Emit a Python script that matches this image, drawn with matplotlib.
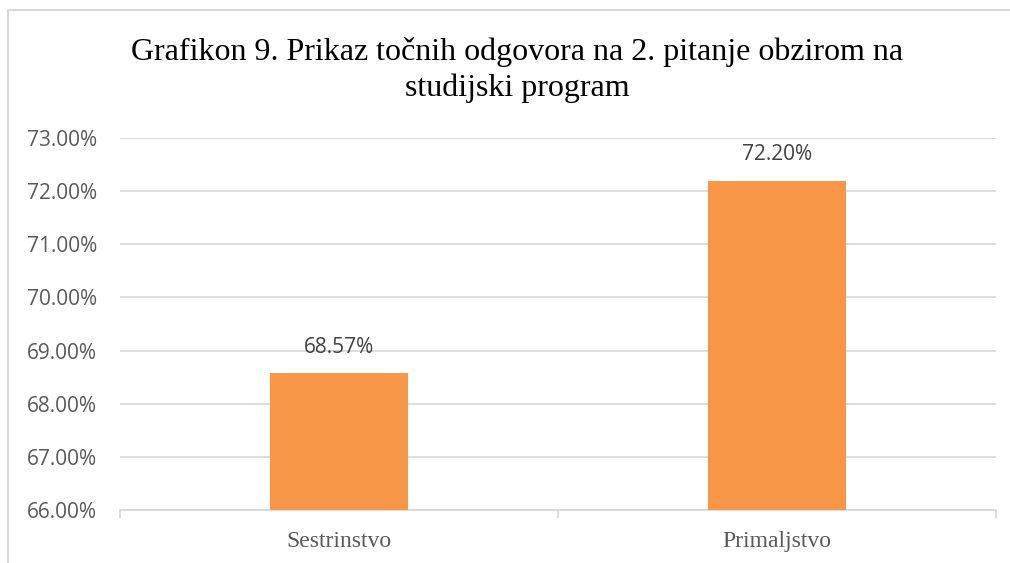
import matplotlib.pyplot as plt
from matplotlib.patches import Rectangle

categories = ['Sestrinstvo', 'Primaljstvo']
values = [68.57, 72.20]
yticks = [66, 67, 68, 69, 70, 71, 72, 73]

fig = plt.figure(figsize=(10.10, 5.63), dpi=100)
ax = fig.add_axes([120 / 1010, 1 - 510 / 563, 876 / 1010, 372 / 563])

# chart frame (top and left edges visible)
fig.patches.append(Rectangle((8 / 1010, -0.1), 1.2, 1 - 10 / 563 + 0.1,
                             transform=fig.transFigure, fill=False,
                             edgecolor='#d9d9d9', linewidth=1.5))

x = range(len(categories))
ax.bar(x, values, width=0.313, color='#f79646', zorder=3)
ax.set_xlim(-0.5, 1.5)
ax.set_ylim(66, 73)
ax.set_yticks(yticks)
ax.set_yticklabels([f'{v:.2f}%' for v in yticks], fontsize=15,
                   color='#595959', family='Open Sans')
ax.grid(axis='y', color='#d9d9d9', linewidth=1.3, zorder=0)
ax.tick_params(axis='y', length=0, pad=16.5)

ax.set_xticks([-0.5, 0.5, 1.5])
ax.set_xticklabels([])
ax.set_xticks(list(x), minor=True)
ax.set_xticklabels(categories, minor=True, fontsize=17, color='#595959',
                   family='Liberation Serif')
ax.tick_params(axis='x', which='major', length=6, color='#d9d9d9', width=1.3)
ax.tick_params(axis='x', which='minor', length=0, pad=15)

for s in ['top', 'right', 'left']:
    ax.spines[s].set_visible(False)
ax.spines['bottom'].set_color('#d9d9d9')
ax.spines['bottom'].set_linewidth(1.3)

for i, v in enumerate(values):
    ax.annotate(f'{v:.2f}%', (i, v), xytext=(0, 19),
                textcoords='offset points', ha='center', va='center',
                fontsize=15, color='#404040', family='Open Sans')

fig.text(517 / 1010, 1 - 70 / 563, 'Grafikon 9. Prikaz točnih odgovora na 2. pitanje obzirom na\nstudijski program',
         ha='center', va='center', fontsize=23, family='Liberation Serif',
         linespacing=1.27)

fig.savefig('out.png', dpi=100)
